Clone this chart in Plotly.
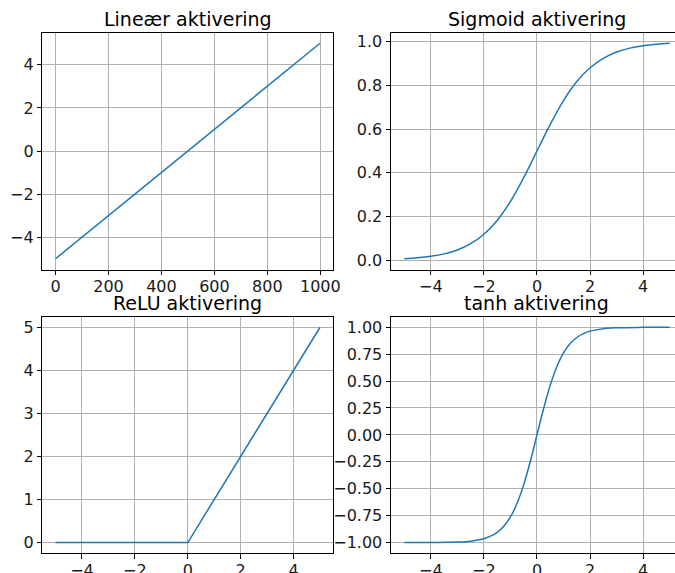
import plotly.graph_objects as go

# ---- data ----
lin_x = [0, 999]
lin_y = [-5, 5]

sig_x = [-5, -4.5, -4, -3.5, -3, -2.5, -2, -1.5, -1, -0.5, 0, 0.5, 1, 1.5, 2, 2.5, 3, 3.5, 4, 4.5, 5]
sig_y = [0.007, 0.011, 0.018, 0.029, 0.047, 0.076, 0.119, 0.182, 0.269, 0.378, 0.5,
         0.622, 0.731, 0.818, 0.881, 0.924, 0.953, 0.971, 0.982, 0.989, 0.993]

relu_x = [-5, 0, 5]
relu_y = [0, 0, 5]

tanh_x = [-5, -4, -3, -2.5, -2, -1.75, -1.5, -1.25, -1, -0.75, -0.5, -0.25, 0,
          0.25, 0.5, 0.75, 1, 1.25, 1.5, 1.75, 2, 2.5, 3, 4, 5]
tanh_y = [-1.0, -0.999, -0.995, -0.987, -0.964, -0.941, -0.905, -0.848, -0.762, -0.635, -0.462, -0.245, 0.0,
          0.245, 0.462, 0.635, 0.762, 0.848, 0.905, 0.941, 0.964, 0.987, 0.995, 0.999, 1.0]

titles = ["Lineær aktivering", "Sigmoid aktivering", "ReLU aktivering", "tanh aktivering"]

lin_xticks = [0, 200, 400, 600, 800, 1000]
lin_yticks = [-4, -2, 0, 2, 4]
sym_xticks = [-4, -2, 0, 2, 4]
sig_yticks = [0.0, 0.2, 0.4, 0.6, 0.8, 1.0]
relu_yticks = [0, 1, 2, 3, 4, 5]
tanh_yticks = [-1.0, -0.75, -0.5, -0.25, 0.0, 0.25, 0.5, 0.75, 1.0]

W, H = 675, 573
C = "#1f77b4"
FONT = "DejaVu Sans"

def px_x(p):
    return p / W

def px_y(p):
    return 1 - p / H

xl = [px_x(42.3), px_x(333.3)]
xr = [px_x(391.0), 1.0]
yt = [px_y(269.5), px_y(32.5)]
yb = [px_y(553.3), px_y(316.5)]

fig = go.Figure()
fig.add_trace(go.Scatter(x=lin_x, y=lin_y, mode="lines", line=dict(color=C, width=1.5), xaxis="x", yaxis="y"))
fig.add_trace(go.Scatter(x=sig_x, y=sig_y, mode="lines", line=dict(color=C, width=1.5, shape="spline"), xaxis="x2", yaxis="y2"))
fig.add_trace(go.Scatter(x=relu_x, y=relu_y, mode="lines", line=dict(color=C, width=1.5), xaxis="x3", yaxis="y3"))
fig.add_trace(go.Scatter(x=tanh_x, y=tanh_y, mode="lines", line=dict(color=C, width=1.5, shape="spline"), xaxis="x4", yaxis="y4"))

def ax(domain, rng, ticks, anchor, fmt=None, mirror=True, standoff=0):
    d = dict(domain=domain, range=rng, tickvals=ticks, anchor=anchor, automargin=False,
             showgrid=True, gridcolor="#b0b0b0", gridwidth=0.8,
             zeroline=False, showline=True, linecolor="black", linewidth=1,
             mirror=mirror, ticks="outside", ticklen=4.5, tickcolor="black",
             ticklabelstandoff=standoff,
             tickfont=dict(family=FONT, size=16, color="#1a1a1a"))
    if fmt:
        d["tickformat"] = fmt
    return d

# right plots are clipped at the window edge: x=5.2 at pixel 675
fig.update_layout(
    width=W, height=H,
    margin=dict(l=0, r=0, t=0, b=0, autoexpand=False),
    paper_bgcolor="white", plot_bgcolor="white",
    showlegend=False,
    xaxis=ax(xl, [-49.95, 1048.95], lin_xticks, "y", standoff=-2),
    yaxis=ax(yt, [-5.5, 5.5], lin_yticks, "x"),
    xaxis2=ax(xr, [-5.5, 5.2], sym_xticks, "y2", standoff=-2),
    yaxis2=ax(yt, [-0.0426, 1.0426], sig_yticks, "x2", fmt=".1f", mirror=False),
    xaxis3=ax(xl, [-5.5, 5.5], sym_xticks, "y3", standoff=-2),
    yaxis3=ax(yb, [-0.25, 5.25], relu_yticks, "x3"),
    xaxis4=ax(xr, [-5.5, 5.2], sym_xticks, "y4", standoff=-2),
    yaxis4=ax(yb, [-1.1, 1.1], tanh_yticks, "x4", fmt=".2f", mirror=False),
)

centers = [(42.3 + 333.3) / 2, (391.0 + 682.9) / 2, (42.3 + 333.3) / 2, (391.0 + 682.9) / 2]
tops = [yt[1], yt[1], yb[1], yb[1]]
for t, cx, ty in zip(titles, centers, tops):
    fig.add_annotation(text=t, x=px_x(cx), y=ty, xref="paper", yref="paper",
                       xanchor="center", yanchor="bottom", yshift=1, showarrow=False,
                       font=dict(family=FONT, size=19, color="black"))

fig.write_html("out.html", config={"displayModeBar": False},
               post_script="document.body.style.margin='0';document.body.style.overflow='hidden';")
